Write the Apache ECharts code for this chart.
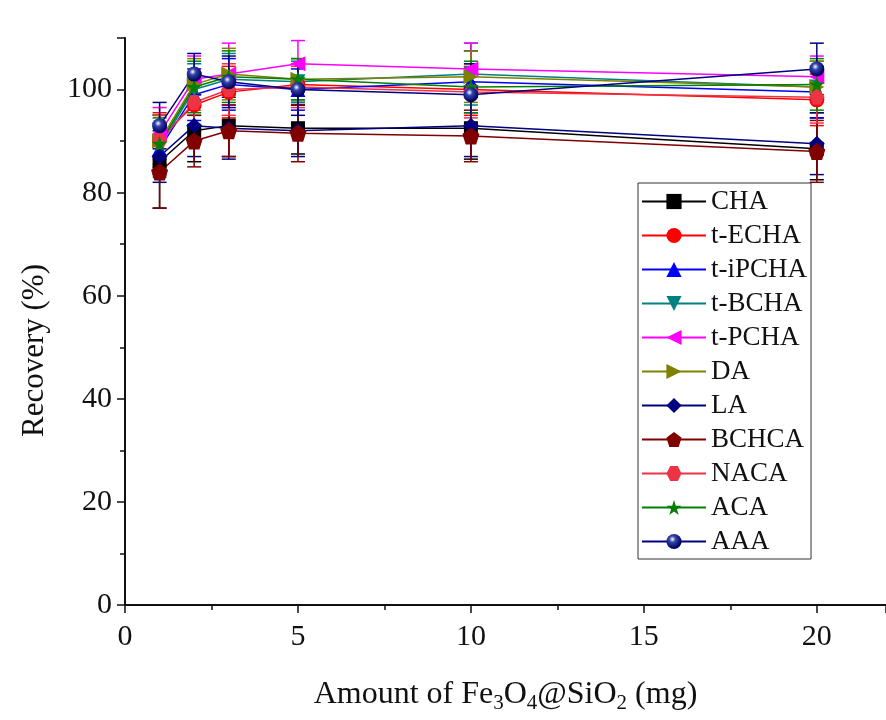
<!DOCTYPE html>
<html><head><meta charset="utf-8">
<script src="https://cdn.jsdelivr.net/npm/echarts@6/dist/echarts.min.js"></script>
<style>html,body{margin:0;padding:0;background:#fff}#c{width:886px;height:720px}</style>
</head><body><div id="c"></div>
<script>
const xValues = [1, 2, 3, 5, 10, 20];
const seriesNames = ['CHA','t-ECHA','t-iPCHA','t-BCHA','t-PCHA','DA','LA','BCHCA','NACA','ACA','AAA'];
const CHA    = [86, 92, 93, 92.5, 92.5, 88.5];
const tECHA  = [90.5, 97, 99.5, 101, 100, 98];
const tiPCHA = [88.5, 99, 101, 100, 101.5, 99.5];
const tBCHA  = [89, 100, 102, 101.5, 103, 100.5];
const tPCHA  = [91.5, 102, 103, 105, 104, 102.5];
const DA     = [90, 101, 103, 102, 102.5, 100.5];
const LA     = [87, 93, 92.5, 92, 93, 89.5];
const BCHCA  = [84, 90, 92, 91.5, 91, 88];
const NACA   = [90, 97.5, 100, 100.5, 99.5, 98.5];
const ACA    = [89.5, 100.5, 102.5, 102, 100.5, 101];
const AAA    = [93, 103, 101.5, 100, 99, 104];
const errCHA    = [9, 6, 6, 5, 6, 6];
const errTECHA  = [5, 5, 5, 4, 5, 5];
const errTiPCHA = [5, 5, 5, 4, 6, 5];
const errTBCHA  = [6, 5, 5, 4, 6, 5];
const errTPCHA  = [5, 4.5, 6, 4.5, 5, 4];
const errDA     = [5, 5, 5, 4, 5, 5];
const errLA     = [5, 6, 6, 5, 6, 6];
const errBCHCA  = [7, 5, 5, 5.5, 5, 6];
const errNACA   = [5, 5, 5, 4, 5, 5];
const errACA    = [5, 5, 5, 4, 5, 5];
const errAAA    = [4.5, 4, 5, 5, 6, 5];
const yTicks = [0, 20, 40, 60, 80, 100];
const xTicks = [0, 5, 10, 15, 20];

const values = [CHA,tECHA,tiPCHA,tBCHA,tPCHA,DA,LA,BCHCA,NACA,ACA,AAA];
const errs = [errCHA,errTECHA,errTiPCHA,errTBCHA,errTPCHA,errDA,errLA,errBCHCA,errNACA,errACA,errAAA];
const colors = ['#000000','#ff0000','#0000ff','#008080','#ff00ff','#808000','#000080','#800000','#ee3344','#008000','#000080'];
const pent = 'path://M0,-1 L0.951,-0.309 L0.588,0.809 L-0.588,0.809 L-0.951,-0.309 Z';
const hexa = 'path://M-0.5,-0.866 L0.5,-0.866 L1,0 L0.5,0.866 L-0.5,0.866 L-1,0 Z';
const star = 'path://M0,-1 L0.2245,-0.309 L0.951,-0.309 L0.363,0.118 L0.588,0.809 L0,0.382 L-0.588,0.809 L-0.363,0.118 L-0.951,-0.309 L-0.2245,-0.309 Z';
const symbols = ['rect','circle','triangle','triangle','triangle','triangle','diamond',pent,hexa,star,'circle'];
const rotates = [0,0,0,180,90,-90,0,0,0,0,0];
const sizes = [14,15,15,15,15,15,16,17,15,16,15];

const series = [];
seriesNames.forEach((n,i)=>{
  series.push({
    name: n + '_err', type: 'custom', silent: true, z: 1,
    data: xValues.map((x,j)=>[x, values[i][j]-errs[i][j], values[i][j]+errs[i][j]]),
    renderItem: (params, api) => {
      const lo = api.coord([api.value(0), api.value(1)]);
      const hi = api.coord([api.value(0), api.value(2)]);
      const w = 7;
      const st = {stroke: colors[i], lineWidth: 1.5};
      return {type:'group', children:[
        {type:'line', shape:{x1:lo[0],y1:lo[1],x2:hi[0],y2:hi[1]}, style:st},
        {type:'line', shape:{x1:lo[0]-w,y1:lo[1],x2:lo[0]+w,y2:lo[1]}, style:st},
        {type:'line', shape:{x1:hi[0]-w,y1:hi[1],x2:hi[0]+w,y2:hi[1]}, style:st}
      ]};
    }
  });
});
seriesNames.forEach((n,i)=>{
  let color = colors[i];
  if (n === 'AAA') {
    color = {type:'radial', x:0.4, y:0.35, r:0.6, colorStops:[{offset:0,color:'#ffffff'},{offset:0.35,color:'#3344aa'},{offset:1,color:'#000060'}]};
  }
  series.push({
    name: n, type: 'line', z: 3,
    data: xValues.map((x,j)=>[x, values[i][j]]),
    symbol: symbols[i], symbolSize: sizes[i], symbolRotate: rotates[i],
    showAllSymbol: true,
    lineStyle: {color: colors[i], width: 1.5},
    itemStyle: {color: color, borderWidth: 0},
    color: colors[i]
  });
});

const chart = echarts.init(document.getElementById('c'), null, {renderer:'canvas'});
const font = 'Liberation Serif';
chart.setOption({
  animation: false,
  backgroundColor: '#ffffff',
  grid: {left: 125, top: 38, right: -6, bottom: 115},
  legend: {
    data: seriesNames, orient: 'vertical', left: 638, top: 183,
    padding: [5, 4, 4, 3],
    borderColor: '#333', borderWidth: 1, borderRadius: 0,
    itemWidth: 64, itemHeight: 19, itemGap: 7,
    textStyle: {fontFamily: font, fontSize: 27, color: '#111'}
  },
  xAxis: {
    type: 'value', min: 0, max: 22, interval: 5,
    axisLine: {show: true, onZero: false, lineStyle: {color: '#111', width: 2}},
    axisTick: {show: true, inside: false, length: 8, lineStyle: {color: '#111', width: 1.5}},
    minorTick: {show: true, splitNumber: 2, length: 5, lineStyle: {color: '#111', width: 1.5}},
    splitLine: {show: false},
    axisLabel: {showMaxLabel: false, fontFamily: font, fontSize: 30, color: '#111', margin: 17,
      formatter: v => xTicks.includes(v) ? String(v) : ''},
    name: '{n|Amount of Fe}{s|3}{n|O}{s|4}{n|@SiO}{s|2}{n| (mg)}',
    nameLocation: 'middle', nameGap: 70,
    nameTextStyle: {rich: {
      n: {fontFamily: font, fontSize: 32, color: '#111'},
      s: {fontFamily: font, fontSize: 21, color: '#111', verticalAlign: 'bottom', padding: [18,0,0,0]}
    }}
  },
  yAxis: {
    type: 'value', min: 0, max: 110, interval: 20,
    axisLine: {show: true, onZero: false, lineStyle: {color: '#111', width: 2}},
    axisTick: {show: true, inside: false, length: 8, lineStyle: {color: '#111', width: 1.5}},
    minorTick: {show: true, splitNumber: 2, length: 5, lineStyle: {color: '#111', width: 1.5}},
    splitLine: {show: false},
    axisLabel: {showMaxLabel: false, fontFamily: font, fontSize: 30, color: '#111', margin: 13,
      formatter: v => yTicks.includes(v) ? String(v) : ''},
    name: 'Recovery (%)', nameLocation: 'middle', nameGap: 75,
    nameTextStyle: {fontFamily: font, fontSize: 31, color: '#111', padding: [0, 58, 0, 0]}
  },
  series: series
});
</script></body></html>
